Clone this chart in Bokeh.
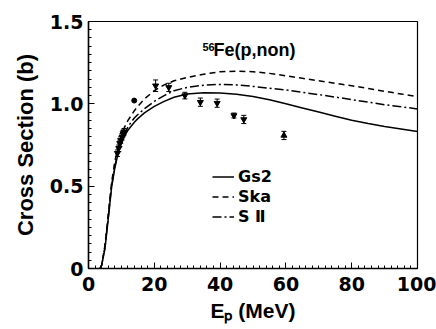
from bokeh.plotting import figure
from bokeh.models import (Range1d, SingleIntervalTicker, Legend, LegendItem, Label,
                          ColumnDataSource, Whisker, TeeHead)
from bokeh.embed import file_html
from bokeh.resources import INLINE

# ---- data ----
energy = [3.5, 4, 5, 6, 7, 8, 9, 10, 11, 12, 13, 14, 15, 17, 20, 23, 26, 30, 35, 40,
          45, 50, 55, 60, 65, 70, 75, 80, 85, 90, 95, 100]
gs2 = [0, 0.02, 0.12, 0.30, 0.49, 0.61, 0.70, 0.76, 0.805, 0.84, 0.865, 0.89, 0.91,
       0.945, 0.985, 1.015, 1.04, 1.06, 1.068, 1.066, 1.058, 1.045, 1.025, 1.0, 0.975,
       0.95, 0.925, 0.90, 0.88, 0.862, 0.847, 0.832]
ska = [0, 0.02, 0.14, 0.33, 0.52, 0.65, 0.74, 0.81, 0.86, 0.90, 0.93, 0.96, 0.985,
       1.03, 1.08, 1.115, 1.14, 1.16, 1.18, 1.195, 1.198, 1.195, 1.185, 1.17, 1.155,
       1.14, 1.125, 1.11, 1.093, 1.076, 1.06, 1.044]
s2 = [0, 0.02, 0.13, 0.31, 0.50, 0.62, 0.71, 0.775, 0.82, 0.86, 0.89, 0.915, 0.935,
      0.97, 1.015, 1.05, 1.08, 1.10, 1.113, 1.118, 1.115, 1.106, 1.095, 1.084, 1.07,
      1.056, 1.041, 1.026, 1.01, 0.995, 0.982, 0.969]

exp_down_x = [8.8, 9.2, 9.5, 9.8, 10.2, 10.5, 10.8, 20.4, 24.4, 29.3, 34.0, 39.1, 44.2, 47.2]
exp_down_y = [0.70, 0.73, 0.76, 0.78, 0.80, 0.82, 0.83, 1.11, 1.10, 1.05, 1.01, 1.004, 0.929, 0.905]
exp_down_err = [0.02, 0.02, 0.02, 0.02, 0.02, 0.02, 0.02, 0.035, 0.025, 0.02, 0.025, 0.025, 0.015, 0.025]
exp_circle_x = [13.9]
exp_circle_y = [1.02]
exp_up_x = [59.4]
exp_up_y = [0.808]
exp_up_err = [0.025]

x_ticks = [0, 20, 40, 60, 80, 100]
y_ticks = [0, 0.5, 1.0, 1.5]
y_tick_labels = ["0", "0.5", "1.0", "1.5"]

# ---- figure ----
p = figure(width=436, height=329, output_backend="svg", toolbar_location=None,
           x_range=Range1d(0, 100), y_range=Range1d(0, 1.5),
           min_border_left=88, min_border_right=19, min_border_top=21, min_border_bottom=61)
p.xgrid.visible = False
p.ygrid.visible = False
p.outline_line_color = "black"
p.outline_line_width = 1.2
p.background_fill_color = "white"
p.border_fill_color = "white"

p.xaxis.ticker = SingleIntervalTicker(interval=20, num_minor_ticks=10)
p.yaxis.ticker = SingleIntervalTicker(interval=0.5, num_minor_ticks=10)
p.yaxis.major_label_overrides = {float(t): l for t, l in zip(y_ticks, y_tick_labels)}
for ax in (p.xaxis[0], p.yaxis[0]):
    ax.axis_line_width = 1.5
    ax.axis_line_color = "black"
    ax.major_tick_in = 6
    ax.major_tick_out = 0
    ax.minor_tick_in = 3
    ax.minor_tick_out = 0
    ax.major_tick_line_color = "black"
    ax.minor_tick_line_color = "black"
    ax.major_label_text_font = "DejaVu Sans"
    ax.major_label_text_font_style = "bold"
    ax.major_label_text_font_size = "19px"
    ax.major_label_text_color = "black"
    ax.axis_label_text_font = "Liberation Sans"
    ax.axis_label_text_font_style = "bold"
    ax.axis_label_text_color = "black"
p.xaxis.major_label_standoff = 8
p.yaxis.major_label_standoff = 5
p.yaxis.axis_label = "Cross Section (b)"
p.yaxis.axis_label_text_font_size = "22px"
p.yaxis.axis_label_standoff = 9
p.xaxis.axis_label = "E\u209a (MeV)"
p.xaxis.axis_label_text_font_size = "21px"
p.xaxis.axis_label_standoff = 5

r1 = p.line(energy, gs2, line_color="black", line_width=1.5)
r2 = p.line(energy, ska, line_color="black", line_width=1.5, line_dash="6 4")
r3 = p.line(energy, s2, line_color="black", line_width=1.5, line_dash="9 3 2 3")

# experimental data with error bars
src_d = ColumnDataSource(dict(x=exp_down_x, y=exp_down_y,
                              lo=[y - e for y, e in zip(exp_down_y, exp_down_err)],
                              hi=[y + e for y, e in zip(exp_down_y, exp_down_err)]))
src_u = ColumnDataSource(dict(x=exp_up_x, y=exp_up_y,
                              lo=[y - e for y, e in zip(exp_up_y, exp_up_err)],
                              hi=[y + e for y, e in zip(exp_up_y, exp_up_err)]))
for src in (src_d, src_u):
    p.add_layout(Whisker(source=src, base="x", lower="lo", upper="hi", line_color="black",
                         line_width=1,
                         upper_head=TeeHead(size=5, line_color="black", line_width=1),
                         lower_head=TeeHead(size=5, line_color="black", line_width=1)))
p.scatter("x", "y", source=src_d, marker="inverted_triangle", size=6, color="black")
p.scatter("x", "y", source=src_u, marker="triangle", size=6, color="black")
p.scatter(exp_circle_x, exp_circle_y, marker="circle", size=5, color="black")

legend = Legend(items=[LegendItem(label="Gs2", renderers=[r1]),
                       LegendItem(label="Ska", renderers=[r2]),
                       LegendItem(label="S \u2161", renderers=[r3])],
                location=(124, 42), orientation="vertical",
                glyph_width=22, glyph_height=19, label_height=19, spacing=1,
                padding=0, margin=0, label_standoff=4,
                border_line_alpha=0, background_fill_alpha=0,
                label_text_font="DejaVu Sans", label_text_font_style="bold",
                label_text_font_size="16px", label_text_color="black")
p.add_layout(legend)

# title inside the frame: 56Fe(p,non)
p.add_layout(Label(x=114, y=222, x_units="screen", y_units="screen", text="56",
                   text_font="Liberation Sans", text_font_style="bold",
                   text_font_size="11px", text_baseline="alphabetic", text_color="black"))
p.add_layout(Label(x=125, y=219, x_units="screen", y_units="screen", text="Fe(p,non)",
                   text_font="Liberation Sans", text_font_style="bold",
                   text_font_size="18px", text_baseline="alphabetic", text_color="black"))

open("out.html", "w").write(file_html(p, INLINE))
